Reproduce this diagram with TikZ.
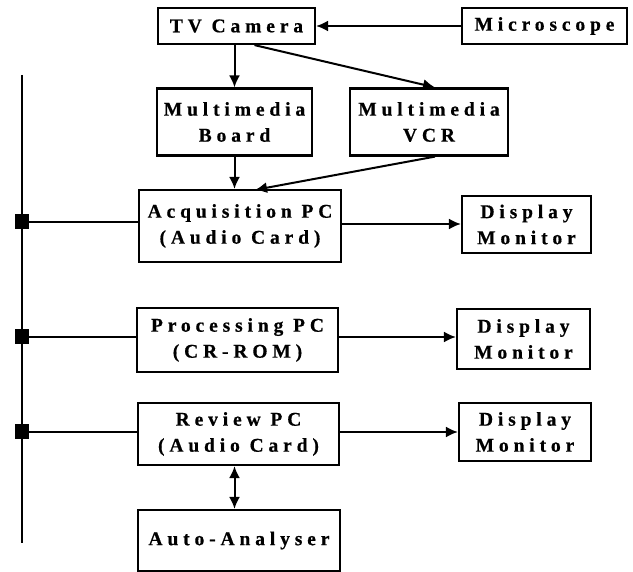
\documentclass[tikz,border=0pt]{standalone}
\usepackage{fontspec}
\setmainfont{Liberation Serif}[LetterSpace=25,BoldFeatures={FakeBold=0.6}]
\usetikzlibrary{arrows.meta,calc}
\begin{document}
\begin{tikzpicture}[x=1pt,y=-1pt,
  box/.style={draw,line width=2.2pt,inner sep=0pt,align=center,
    font=\fontsize{19.5}{26}\selectfont\bfseries},
  arr/.style={line width=2pt,-{Latex[length=12pt,width=11pt]}},
  dbl/.style={line width=2pt,{Latex[length=12pt,width=11pt]}-{Latex[length=12pt,width=11pt]}},
  plain/.style={line width=2pt},
  tap/.style={fill=black,minimum width=14pt,minimum height=15pt,inner sep=0pt}]
\useasboundingbox (0,0) rectangle (633,572);
\node[box,minimum width=157pt,minimum height=36pt] (tv) at (236.5,26) {TV Camera};
\node[box,minimum width=165pt,minimum height=36pt] (mic) at (544.5,26) {Microscope};
\node[box,minimum width=155pt,minimum height=67pt] (board) at (234.5,122) {Multimedia\\Board};
\node[box,minimum width=158pt,minimum height=67pt] (vcr) at (429,122) {Multimedia\\VCR};
\node[box,minimum width=202pt,minimum height=72pt] (acq) at (240,226) {Acquisition PC\\(Audio Card)};
\node[box,minimum width=129pt,minimum height=57pt] (dm1) at (526.5,224.5) {Display\\Monitor};
\node[box,minimum width=201pt,minimum height=64pt] (proc) at (237.5,340) {Processing PC\\(CR-ROM)};
\node[box,minimum width=133pt,minimum height=60pt] (dm2) at (523.5,339) {Display\\Monitor};
\node[box,minimum width=201pt,minimum height=62pt] (rev) at (238.5,434) {Review PC\\(Audio Card)};
\node[box,minimum width=132pt,minimum height=58pt] (dm3) at (525,432) {Display\\Monitor};
\node[box,minimum width=202pt,minimum height=61pt] (auto) at (239,540.5) {Auto-Analyser};
\coordinate (bustop) at (22,75);
\coordinate (busbot) at (22,543);
\draw[plain] (bustop) -- (busbot);
\node[tap] (t1) at (22,222) {};
\node[tap] (t2) at (22,337) {};
\node[tap] (t3) at (22,432) {};
\draw[plain] (t1) -- (t1 -| acq.west);
\draw[plain] (t2) -- (t2 -| proc.west);
\draw[plain] (t3) -- (t3 -| rev.west);
\draw[arr] (mic.west) -- (mic.west -| tv.east);
\draw[arr] (tv.south -| board.north) -- (board.north);
\draw[arr] ([xshift=18pt]tv.south) -- ([xshift=6pt]vcr.north);
\draw[arr] (board.south) -- (board.south |- acq.north);
\draw[arr] ([xshift=6pt]vcr.south) -- ([xshift=15pt,yshift=-1pt]acq.north);
\draw[arr] ([yshift=2pt]acq.east) -- ([yshift=2pt]acq.east -| dm1.west);
\draw[arr] (proc.east |- t2) -- (t2 -| dm2.west);
\draw[arr] (rev.east |- t3) -- (t3 -| dm3.west);
\draw[dbl] ([xshift=-4pt]rev.south) -- ([xshift=-4pt]rev.south |- auto.north);
\end{tikzpicture}
\end{document}
